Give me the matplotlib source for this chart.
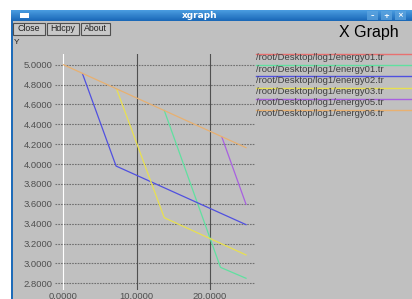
"""xgraph screenshot: energy per node (log1/energy*.tr)."""

import matplotlib.pyplot as plt
import numpy as np
from matplotlib.colors import LinearSegmentedColormap
from matplotlib.lines import Line2D
from matplotlib.patches import Rectangle

W, H = 412, 299

# series
labels = [
    "/root/Desktop/log1/energy01.tr",
    "/root/Desktop/log1/energy01.tr",
    "/root/Desktop/log1/energy02.tr",
    "/root/Desktop/log1/energy03.tr",
    "/root/Desktop/log1/energy05.tr",
    "/root/Desktop/log1/energy06.tr",
]
colors = ["#e87070", "#60e0a0", "#5050e0", "#e8e050", "#a860e0", "#e8b070"]

red_x, red_y = [], []
green_x = [13.8, 21.5, 25.0]
green_y = [4.54, 2.96, 2.85]
blue_x = [2.6, 7.2, 25.0]
blue_y = [4.91, 3.98, 3.39]
yellow_x = [7.3, 13.8, 25.0]
yellow_y = [4.75, 3.46, 3.085]
purple_x = [21.7, 25.0]
purple_y = [4.27, 3.595]
orange_x = [0.0, 25.0]
orange_y = [5.0, 4.165]

y_ticks = [2.8, 3.0, 3.2, 3.4, 3.6, 3.8, 4.0, 4.2, 4.4, 4.6, 4.8, 5.0]
x_ticks = [0, 10, 20]


def fx(px):
    return px / W


def fy(py):
    return 1 - py / H


fig = plt.figure(figsize=(W / 100, H / 100), dpi=100)
fig.patch.set_facecolor("white")

# window body + title bar
fig.patches.append(Rectangle((fx(12), 0), fx(W) - fx(12), fy(21), transform=fig.transFigure,
                             facecolor="#c0c0c0", edgecolor="none", zorder=-2))
fig.patches.append(Rectangle((fx(11), 0), fx(2), fy(10), transform=fig.transFigure,
                             facecolor="#1e6bb8", edgecolor="none", zorder=-1))
bar = fig.add_axes([fx(11), fy(21), 1 - fx(11), fy(10) - fy(21)])
grad = np.linspace(0, 1, 20).reshape(-1, 1)
bar.imshow(grad, aspect="auto", extent=[0, 1, 0, 1],
           cmap=LinearSegmentedColormap.from_list("tb", ["#4a9ce0", "#1a68b8"]))
bar.set_axis_off()
bar.add_patch(Rectangle((0.022, 0.3), 0.022, 0.4, facecolor="white", edgecolor="none"))
for i, sym in enumerate(["–", "+", "×"]):
    x0 = (367 + i * 14 - 11) / (W - 11)
    bar.add_patch(Rectangle((x0, 0.05), 11 / (W - 11), 0.9, facecolor="#5fa6e0",
                            edgecolor="none", alpha=0.7))
    bar.text(x0 + 5.5 / (W - 11), 0.5, sym, color="white", fontsize=5, fontweight="bold",
             ha="center", va="center")
fig.text(fx(200), fy(15.5), "xgraph", color="white", fontsize=6.5, fontweight="bold",
         ha="center", va="center", family="DejaVu Sans")

# buttons
for name, x0, x1 in [("Close", 13, 45), ("Hdcpy", 46.5, 79), ("About", 80.5, 109.5)]:
    fig.patches.append(Rectangle((fx(x0), fy(34.5)), fx(x1) - fx(x0), fy(22.5) - fy(34.5),
                                 transform=fig.transFigure, facecolor="#c8c8c8",
                                 edgecolor="#505050", linewidth=0.8, zorder=2))
    fig.text(fx((x0 + x1) / 2), fy(28.5), name, fontsize=6.3, family="Liberation Sans",
             ha="center", va="center", color="#202020", zorder=3)

fig.text(fx(14), fy(42), "Y", fontsize=6, family="Liberation Sans", ha="left",
         va="center", color="#202020")
fig.text(fx(369), fy(33), "X Graph", fontsize=11.5, family="Liberation Sans",
         ha="center", va="center", color="black")

# plot area
ax = fig.add_axes([fx(55), fy(290), fx(255) - fx(55), fy(54) - fy(290)])
ax.set_facecolor("none")
ax.set_xlim(-1.164, 26.23)
ax.set_ylim(2.732, 5.108)
for s in ax.spines.values():
    s.set_visible(False)
ax.set_yticks(y_ticks)
ax.set_yticklabels([f"{v:.4f}" for v in y_ticks])
ax.set_xticks(x_ticks)
ax.set_xticklabels([f"{v:.4f}" for v in x_ticks])
ax.tick_params(length=0, labelsize=6.8, labelcolor="#505050", pad=1.5)
for t in ax.get_xticklabels() + ax.get_yticklabels():
    t.set_family("Liberation Sans")
for v in y_ticks:
    ax.axhline(v, color="#707070", linestyle=(0, (1.5, 1)), linewidth=0.8, zorder=1)
for v in x_ticks:
    ax.axvline(v, color="white" if v == 0 else "#505050", linewidth=0.8, zorder=1)

series = [(red_x, red_y), (green_x, green_y), (blue_x, blue_y),
          (yellow_x, yellow_y), (purple_x, purple_y), (orange_x, orange_y)]
for (xs, ys), c in zip(series, colors):
    ax.plot(xs, ys, color=c, linewidth=0.9, zorder=3)

# legend, xgraph style: colour bar above each name
for i, (lab, c) in enumerate(zip(labels, colors)):
    ly = 54 + i * 11.2
    fig.lines.append(Line2D([fx(256), fx(W)], [fy(ly), fy(ly)], transform=fig.transFigure,
                            color=c, linewidth=1.0))
    fig.text(fx(256), fy(ly + 4), lab, fontsize=6.8, family="Liberation Sans",
             ha="left", va="center", color="#404040")

fig.savefig("out.png", dpi=100)
